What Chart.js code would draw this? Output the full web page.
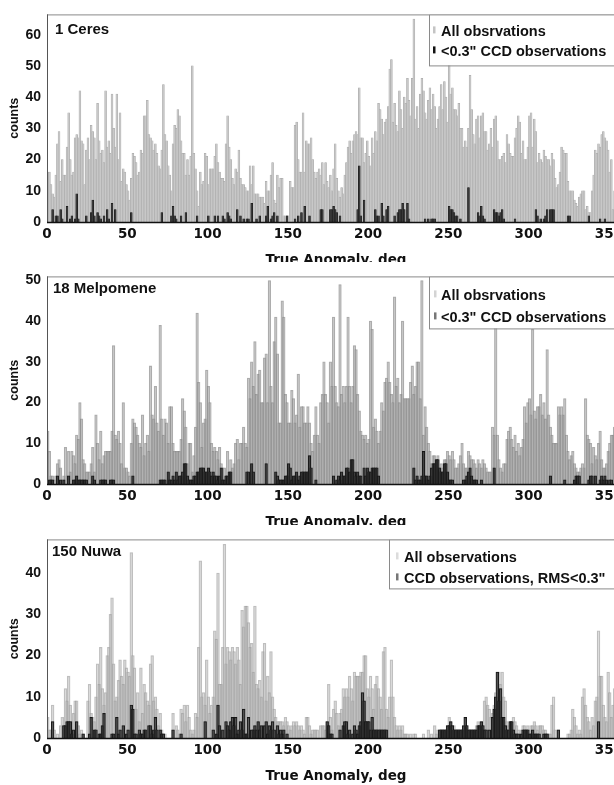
<!DOCTYPE html>
<html>
<head>
<meta charset="utf-8">
<script src="https://cdn.jsdelivr.net/npm/chart.js@4.4.0/dist/chart.umd.min.js"></script>
<style>
  html, body { margin: 0; padding: 0; background: #fff; width: 614px; height: 785px; overflow: hidden; }
  .panel { position: absolute; left: 0; width: 614px; overflow: hidden; }
  .panel canvas { position: absolute; left: 0; top: 0; }
</style>
</head>
<body>
<div class="panel" style="top:0;height:262px"><canvas id="ceres" width="640" height="269"></canvas></div>
<div class="panel" style="top:262px;height:263px"><canvas id="melpomene" width="640" height="269"></canvas></div>
<div class="panel" style="top:525px;height:260px"><canvas id="nuwa" width="640" height="260"></canvas></div>
<script>
// counts per 1 deg bin of true anomaly
const ceresAll = [
  16,16,12,9,8,15,25,29,13,20,15,15,24,35,20,15,16,27,28,27,
  42,26,25,12,23,27,20,31,29,27,20,38,26,22,23,19,42,24,26,22,
  41,30,24,41,20,35,13,17,16,12,10,7,14,22,21,19,15,16,23,22,
  34,34,39,28,27,26,23,25,22,18,17,23,44,28,26,18,15,10,25,31,
  30,36,34,26,22,22,15,20,15,21,50,22,17,10,5,16,12,13,22,21,
  12,17,17,17,21,25,19,16,14,14,13,25,34,24,20,14,12,17,16,23,
  14,12,12,11,10,10,18,12,18,9,9,9,8,8,8,6,13,10,10,15,
  19,7,6,15,11,14,14,2,2,2,2,13,11,11,31,32,20,16,16,35,
  16,26,25,25,27,20,16,14,16,17,15,19,12,19,13,11,15,10,17,25,
  14,10,8,11,9,15,19,24,26,22,26,28,29,28,43,27,27,19,22,26,
  21,18,27,22,29,26,38,36,33,28,32,33,37,49,52,32,38,31,29,42,
  36,30,40,38,46,39,34,46,65,33,37,30,41,46,42,35,33,39,43,36,
  41,37,30,33,37,44,36,45,40,32,55,41,43,36,36,34,38,30,30,24,
  26,24,30,47,36,28,25,33,34,27,34,35,29,29,23,25,30,24,33,34,
  26,20,20,21,22,19,28,25,22,21,21,27,30,34,32,22,26,20,20,24,
  34,35,24,33,29,19,22,20,19,23,21,20,20,18,22,20,14,11,12,16,
  24,23,22,22,13,10,10,10,7,6,5,8,9,10,10,4,5,3,3,10,
  15,23,22,25,24,28,29,27,26,23,16,20,4,10,14,12,18,10,12,8
];
const ceresCcd = [
  0,0,0,4,0,2,2,0,4,1,0,0,5,0,1,2,0,1,9,1,
  0,0,0,0,2,0,0,3,7,2,0,3,2,1,0,2,0,4,1,0,
  6,0,4,0,0,0,0,0,0,0,0,0,3,0,0,0,0,0,0,0,
  0,0,0,0,0,0,0,0,0,0,0,3,0,0,0,0,0,2,5,2,
  1,0,0,2,0,0,3,0,0,0,0,0,0,2,0,0,0,0,0,0,
  2,0,0,0,2,0,2,0,0,2,1,0,3,2,1,0,0,0,4,0,
  2,0,1,0,1,1,0,6,0,0,1,0,2,0,0,0,2,5,0,1,
  2,3,0,2,0,0,0,0,0,2,0,0,0,0,1,0,2,0,3,0,
  5,0,0,2,0,0,0,0,0,0,4,4,0,0,0,0,4,4,5,4,
  3,0,2,0,0,0,0,0,0,0,0,0,0,4,18,2,0,7,0,0,
  0,0,0,0,4,2,2,0,6,2,0,4,5,0,0,0,2,0,3,4,
  4,6,4,0,6,1,0,0,0,0,0,0,0,0,0,1,0,1,0,1,
  1,1,0,0,0,0,0,0,0,0,5,4,4,3,2,2,0,1,0,0,
  0,0,11,0,0,0,0,0,3,2,5,2,1,0,0,0,0,0,4,3,
  3,2,3,4,1,0,0,0,0,0,0,1,0,0,0,0,0,0,0,0,
  0,0,0,0,4,2,0,1,0,1,2,4,0,4,4,4,0,0,0,0,
  0,0,0,0,2,2,0,0,0,0,0,0,0,0,0,0,0,2,0,0,
  0,0,0,0,1,0,0,1,0,0,0,0,0,0,0,0,0,0,0,0
];
const melpAll = [
  13,8,2,2,1,2,5,6,4,1,2,9,2,8,3,8,7,5,12,11,
  20,16,6,5,3,3,3,5,9,3,17,10,6,13,5,7,8,8,8,8,
  13,34,12,11,13,10,5,20,4,4,3,2,10,16,15,14,12,10,9,17,
  7,10,12,8,29,17,16,24,15,13,39,16,12,16,15,10,19,19,10,8,
  8,8,8,11,21,18,14,5,10,10,3,7,14,42,25,20,9,15,16,28,
  24,20,10,8,9,8,6,9,5,4,4,2,8,3,6,4,5,10,11,6,
  10,10,14,10,9,26,21,30,24,35,22,27,28,20,20,31,32,20,50,24,
  20,35,41,32,15,15,45,41,22,20,15,15,23,21,15,17,27,14,19,19,
  15,15,19,15,10,8,12,19,12,10,20,22,30,22,20,15,30,24,41,24,
  20,19,49,22,24,20,24,41,24,20,24,34,33,22,18,13,12,11,12,10,
  11,40,38,14,16,13,10,13,20,18,25,26,30,25,22,20,46,24,26,20,
  22,40,21,21,21,21,25,29,22,24,30,30,21,50,12,19,14,10,8,5,
  7,7,6,7,4,5,4,6,6,8,7,6,8,6,4,4,5,7,10,5,
  4,4,8,7,6,6,5,4,6,5,4,6,5,4,3,3,3,14,12,39,
  12,6,4,3,5,5,11,13,14,11,9,12,8,10,7,9,11,19,15,20,
  21,17,38,18,16,19,19,22,17,20,16,33,17,14,12,10,10,10,19,17,
  19,17,21,12,8,6,7,8,5,4,3,3,4,5,4,21,12,11,10,5,
  9,7,6,10,13,6,4,4,5,8,10,12,12,14,10,8,12,6,9,5
];
const melpCcd = [
  0,1,1,1,0,0,2,0,1,0,1,0,0,2,0,0,1,1,2,1,
  1,1,1,1,1,0,0,0,2,1,0,0,0,1,1,1,1,0,0,1,
  1,1,0,0,0,0,0,0,0,0,0,0,0,2,0,0,0,0,0,0,
  0,0,0,0,0,0,0,0,0,0,1,1,1,1,0,3,1,1,2,1,
  3,1,2,2,3,5,5,2,1,1,1,2,2,3,3,4,4,4,3,3,
  4,3,2,3,2,2,1,2,4,1,1,2,2,3,3,0,0,0,0,0,
  0,0,0,0,3,3,0,5,3,0,0,0,0,0,0,0,5,0,0,0,
  0,0,3,2,1,1,1,1,2,2,5,4,1,2,2,3,1,2,3,3,
  3,3,3,7,4,0,0,1,0,0,0,0,0,0,0,0,0,0,2,0,
  1,2,1,3,2,2,4,4,3,6,6,3,2,3,2,2,0,4,2,4,
  3,3,4,4,4,4,2,0,0,0,0,0,0,0,0,0,0,0,0,0,
  0,0,0,0,0,0,0,0,4,1,2,1,1,2,8,2,2,1,2,4,
  5,5,6,6,4,3,3,5,5,3,1,1,1,0,0,0,0,0,0,1,
  1,2,3,4,2,1,1,1,0,0,1,0,0,0,0,0,0,0,4,0,
  0,0,0,0,0,0,0,0,0,0,0,0,0,0,0,0,0,0,0,0,
  0,0,0,0,0,0,0,0,0,0,0,0,0,2,0,0,0,0,0,0,
  0,0,1,0,0,0,0,0,1,2,2,2,0,0,0,0,0,1,2,2,
  0,2,0,0,1,2,1,2,1,0,1,1,0,0,0,0,0,0,0,0
];
const nuwaAll = [
  5,2,2,8,2,0,1,0,3,5,3,12,9,15,8,4,6,9,9,3,
  1,2,1,0,0,9,13,6,5,4,10,18,13,22,12,8,11,20,22,30,
  34,18,9,10,14,19,15,13,19,17,16,15,45,20,17,7,11,4,17,6,
  13,11,9,8,18,20,9,10,7,3,6,2,1,1,0,0,0,0,6,0,
  3,2,1,7,6,8,4,8,5,2,1,2,6,5,22,43,10,11,8,19,
  10,6,8,10,26,24,40,13,13,22,47,18,22,21,19,22,21,18,22,19,
  13,31,27,32,32,28,22,23,16,32,13,12,14,10,21,23,9,15,11,21,
  10,7,5,4,4,4,4,3,5,4,3,2,3,4,3,4,3,2,3,2,
  1,5,5,3,1,2,2,2,2,0,3,3,3,2,4,13,5,2,7,9,
  6,3,6,7,12,10,12,10,15,12,9,16,15,15,15,16,16,20,20,12,
  10,15,12,7,13,15,12,10,7,21,22,7,5,10,19,10,5,3,2,3,
  2,3,1,1,1,0,1,0,1,1,0,0,0,0,1,0,0,2,0,1,
  0,3,1,2,2,2,2,2,2,3,5,4,3,3,2,2,2,2,2,2,
  5,3,2,2,2,2,2,3,4,3,4,3,9,10,8,7,5,6,8,11,
  16,16,13,16,10,9,4,3,4,4,5,4,3,2,1,2,3,3,2,3,
  2,3,3,4,3,2,3,3,3,2,2,1,1,1,8,10,2,0,2,0,
  0,0,0,0,1,1,2,7,5,3,1,2,1,10,12,8,5,4,2,5,
  3,9,10,26,15,15,8,5,4,16,11,5,8,12,6,4,3,8,5,3
];
const nuwaCcd = [
  0,0,0,4,0,0,0,0,0,0,3,3,4,4,4,1,2,0,4,0,
  0,0,1,0,0,0,1,5,0,2,2,0,1,1,3,6,0,0,0,0,
  1,1,0,5,1,2,0,3,0,1,2,0,8,7,1,1,0,2,1,1,
  2,2,0,3,3,1,2,5,2,0,2,1,1,0,0,0,0,0,2,0,
  0,0,0,1,0,0,0,0,0,0,0,0,0,0,0,0,0,0,4,0,
  0,0,0,2,0,1,8,3,0,2,0,4,3,2,4,5,3,5,1,2,
  4,2,7,1,1,5,0,2,2,3,2,4,2,3,0,3,4,1,3,2,
  4,2,0,3,1,2,1,2,0,1,0,0,0,0,0,0,0,0,0,0,
  0,0,0,0,0,0,0,0,0,0,0,0,0,0,4,3,1,1,0,0,
  0,0,2,0,3,4,4,1,2,0,1,3,2,1,3,4,11,9,4,4,
  4,2,5,2,2,2,2,2,2,2,2,2,0,0,0,0,0,0,0,0,
  0,0,0,0,0,0,0,0,0,0,0,0,0,0,0,0,0,0,0,0,
  0,0,0,0,2,2,2,2,2,3,3,4,3,2,2,2,2,2,2,3,
  5,3,2,2,2,2,2,2,3,3,4,3,2,2,0,2,0,5,7,10,
  16,9,12,5,5,3,2,2,4,4,2,1,1,1,0,1,2,2,2,2,
  1,1,2,1,1,1,1,0,0,1,1,1,0,0,0,0,0,0,2,0,
  0,0,0,0,0,0,0,0,0,0,0,0,0,0,0,0,0,0,0,0,
  0,0,0,4,0,0,0,0,0,0,0,0,0,0,0,0,0,0,0,0
];

const binCentres = Array.from({ length: 360 }, (_, i) => i + 0.5); // deg
const xTicks = [0, 50, 100, 150, 200, 250, 300, 350];
const ceresTicks = [0, 10, 20, 30, 40, 50, 60];
const melpTicks = [0, 10, 20, 30, 40, 50];
const nuwaTicks = [0, 10, 20, 30, 40];

const SANS = '"Liberation Sans", Arial, sans-serif';

// frame, asteroid name and the boxed legend in the top right corner
const frameAndLegend = {
  id: 'frameAndLegend',
  afterDraw(chart, args, o) {
    const { ctx, chartArea: a } = chart;
    ctx.save();
    ctx.lineWidth = 1;
    ctx.strokeStyle = '#8a8a8a';
    ctx.strokeRect(a.left + 0.5, a.top + 0.5, a.right - a.left, a.bottom - a.top);
    ctx.strokeStyle = '#555';
    ctx.beginPath();
    ctx.moveTo(a.left + 0.5, a.top);
    ctx.lineTo(a.left + 0.5, a.bottom + 1);
    ctx.stroke();
    ctx.strokeStyle = '#111';
    ctx.lineWidth = 1.5;
    ctx.beginPath();
    ctx.moveTo(a.left, a.bottom + 0.5);
    ctx.lineTo(a.right, a.bottom + 0.5);
    ctx.stroke();

    ctx.fillStyle = '#111';
    ctx.font = 'bold 15px ' + SANS;
    ctx.textBaseline = 'middle';
    ctx.fillText(o.name, a.left + o.nameX, a.top + o.nameY);

    ctx.fillStyle = '#fff';
    ctx.fillRect(o.boxX, a.top, chart.width - o.boxX, o.boxH);
    ctx.strokeStyle = '#8a8a8a';
    ctx.lineWidth = 1;
    ctx.strokeRect(o.boxX + 0.5, a.top + 0.5, chart.width, o.boxH);
    ctx.font = 'bold 14.5px ' + SANS;
    chart.data.datasets.forEach((ds, i) => {
      const y = a.top + o.rows[i];
      ctx.fillStyle = o.marks[i];
      ctx.fillRect(o.markX, y - 6, 2.5, 7);
      ctx.fillStyle = '#111';
      ctx.fillText(ds.label, o.textX, y);
    });
    ctx.restore();
  }
};

function panel(id, all, ccd, yMax, yTicks, labels, look, box) {
  return new Chart(document.getElementById(id), {
    type: 'bar',
    data: {
      labels: binCentres,
      datasets: [
        { label: labels[0], data: all, order: 1, grouped: false,
          backgroundColor: look.allFill, borderColor: look.allLine, borderWidth: look.line,
          barThickness: look.width },
        { label: labels[1], data: ccd, order: 0, grouped: false,
          backgroundColor: look.ccdFill, borderColor: '#111', borderWidth: look.line,
          barThickness: look.width }
      ]
    },
    options: {
      responsive: false,
      animation: false,
      events: [],
      layout: { padding: { top: box.top, right: 15, left: 0, bottom: 0 } },
      scales: {
        x: {
          type: 'linear', min: 0, max: 360, offset: false,
          grid: { display: false, drawTicks: false }, border: { display: false },
          afterBuildTicks: s => { s.ticks = xTicks.map(v => ({ value: v })); },
          afterFit: s => { s.height = 47; },
          ticks: { padding: 4, color: '#111', maxRotation: 0,
                   font: { family: '"DejaVu Sans", sans-serif', size: 13.5, weight: 'bold' } },
          title: { display: true, text: 'True Anomaly, deg', color: '#111', padding: { top: 0, bottom: 0 },
                   font: { family: '"DejaVu Sans", sans-serif', size: 13.5, weight: 'bold' } }
        },
        y: {
          min: 0, max: yMax,
          grid: { display: false, drawTicks: false }, border: { display: false },
          afterBuildTicks: s => { s.ticks = yTicks.map(v => ({ value: v })); },
          afterFit: s => { s.width = 47; },
          ticks: { padding: 6, color: '#111', font: { family: SANS, size: 14, weight: 'bold' } },
          title: { display: true, text: 'counts', color: '#111', padding: { top: 7, bottom: 0 },
                   font: { family: SANS, size: 12.5, weight: 'bold' } }
        }
      },
      plugins: {
        legend: { display: false },
        tooltip: { enabled: false },
        frameAndLegend: box
      }
    },
    plugins: [frameAndLegend]
  });
}

panel('ceres', ceresAll, ceresCcd, 66.5, ceresTicks,
  ['All obsrvations', '<0.3" CCD observations'],
  { allFill: '#c8c8c8', allLine: '#a4a4a4', ccdFill: '#3a3a3a', line: 0.5, width: 1.9 },
  { top: 11, name: '1 Ceres', nameX: 8, nameY: 15, boxX: 429, boxH: 51,
    rows: [18, 38], markX: 433, textX: 441, marks: ['#c4c4c4', '#111'] });

panel('melpomene', melpAll, melpCcd, 51, melpTicks,
  ['All obsrvations', '<0.3" CCD observations'],
  { allFill: 'rgba(170,170,170,0.55)', allLine: 'rgba(120,120,120,0.6)', ccdFill: 'rgba(45,45,45,0.75)', line: 0.6, width: 2.6 },
  { top: 9, name: '18 Melpomene', nameX: 6, nameY: 12.5, boxX: 429, boxH: 52,
    rows: [20, 42], markX: 434, textX: 441, marks: ['#d4d4d4', '#777'] });

panel('nuwa', nuwaAll, nuwaCcd, 48.2, nuwaTicks,
  ['All observations', 'CCD observations, RMS<0.3"'],
  { allFill: 'rgba(190,190,190,0.5)', allLine: 'rgba(140,140,140,0.55)', ccdFill: 'rgba(50,50,50,0.7)', line: 0.6, width: 2.8 },
  { top: 8, name: '150 Nuwa', nameX: 5, nameY: 12.5, boxX: 389, boxH: 49,
    rows: [19, 40], markX: 396, textX: 404, marks: ['#dcdcdc', '#777'] });
</script>
</body>
</html>
